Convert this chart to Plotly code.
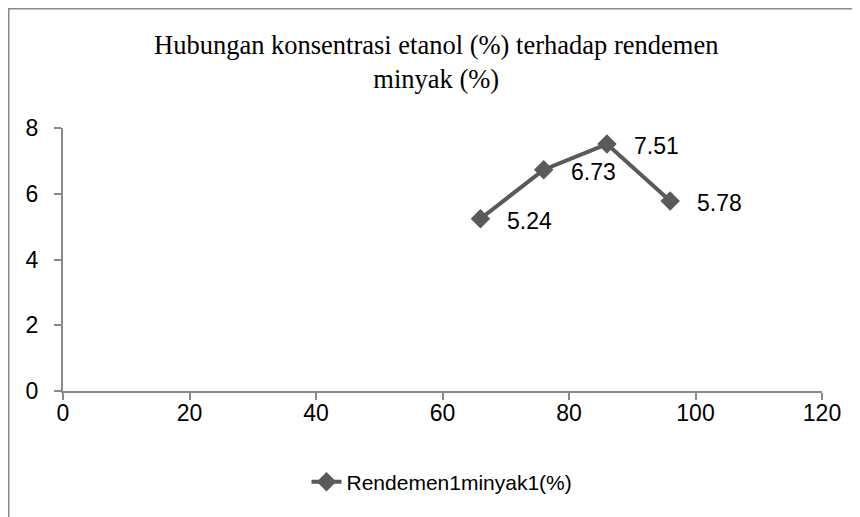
import plotly.graph_objects as go

konsentrasi = [66, 76, 86, 96]
rendemen = [5.24, 6.73, 7.51, 5.78]
label_text = ["5.24", "6.73", "7.51", "5.78"]
title_text = "Hubungan konsentrasi etanol (%) terhadap rendemen<br>minyak (%)"
series_name = "Rendemen1minyak1(%)"
x_ticks = [0, 20, 40, 60, 80, 100, 120]
y_ticks = [0, 2, 4, 6, 8]

W, H = 860, 517
OFF = 8  # default page body margin
L, R, T, B = 63 - OFF, 822 - OFF, 128 - OFF, 391 - OFF

def px_x(p):
    return (p - OFF - L) / (R - L)

def px_y(p):
    return (B - (p - OFF)) / (B - T)

fig = go.Figure()
fig.add_trace(go.Scatter(
    x=konsentrasi, y=rendemen, mode="lines+markers", name=series_name,
    line=dict(color="#5a5a5a", width=4),
    marker=dict(symbol="diamond", size=15, color="#5a5a5a"),
    cliponaxis=False,
))

annotations = []
for xv, yv, t in zip(konsentrasi, rendemen, label_text):
    annotations.append(dict(x=xv, y=yv, xref="x", yref="y", text=t, showarrow=False,
                            xanchor="left", yanchor="middle", xshift=25, yshift=-2,
                            font=dict(family="Liberation Sans", size=23, color="#000")))
annotations.append(dict(x=px_x(436), y=px_y(62), xref="paper", yref="paper",
                        text=title_text, showarrow=False, xanchor="center", yanchor="middle",
                        font=dict(family="Liberation Serif", size=26.5, color="#000")))

shapes = [
    dict(type="line", xref="paper", yref="paper", x0=px_x(8), x1=px_x(8),
         y0=px_y(8), y1=px_y(540), line=dict(color="#8a8a8a", width=3)),
    dict(type="line", xref="paper", yref="paper", x0=px_x(8), x1=px_x(900),
         y0=px_y(8), y1=px_y(8), line=dict(color="#8a8a8a", width=3)),
]

tick_font = dict(family="Liberation Sans", size=23, color="#000")

fig.update_layout(
    width=W, height=H,
    margin=dict(l=L, r=W - R, t=T, b=H - B),
    paper_bgcolor="white", plot_bgcolor="white",
    showlegend=True,
    legend=dict(orientation="h", x=px_x(442), y=px_y(482), xanchor="center", yanchor="middle",
                font=dict(family="Liberation Sans", size=21, color="#000")),
    annotations=annotations, shapes=shapes,
    xaxis=dict(range=[0, 120], tickvals=x_ticks, showgrid=False, zeroline=False,
               showline=True, linecolor="#8a8a8a", linewidth=2,
               ticks="outside", ticklen=7, tickcolor="#8a8a8a", tickwidth=2,
               ticklabelstandoff=-7,
               tickfont=tick_font),
    yaxis=dict(range=[0, 8], tickvals=y_ticks, showgrid=False, zeroline=False,
               showline=True, linecolor="#8a8a8a", linewidth=2,
               ticks="outside", ticklen=7, tickcolor="#8a8a8a", tickwidth=2,
               ticklabelstandoff=11,
               tickfont=tick_font),
)

fig.write_html("out.html")
